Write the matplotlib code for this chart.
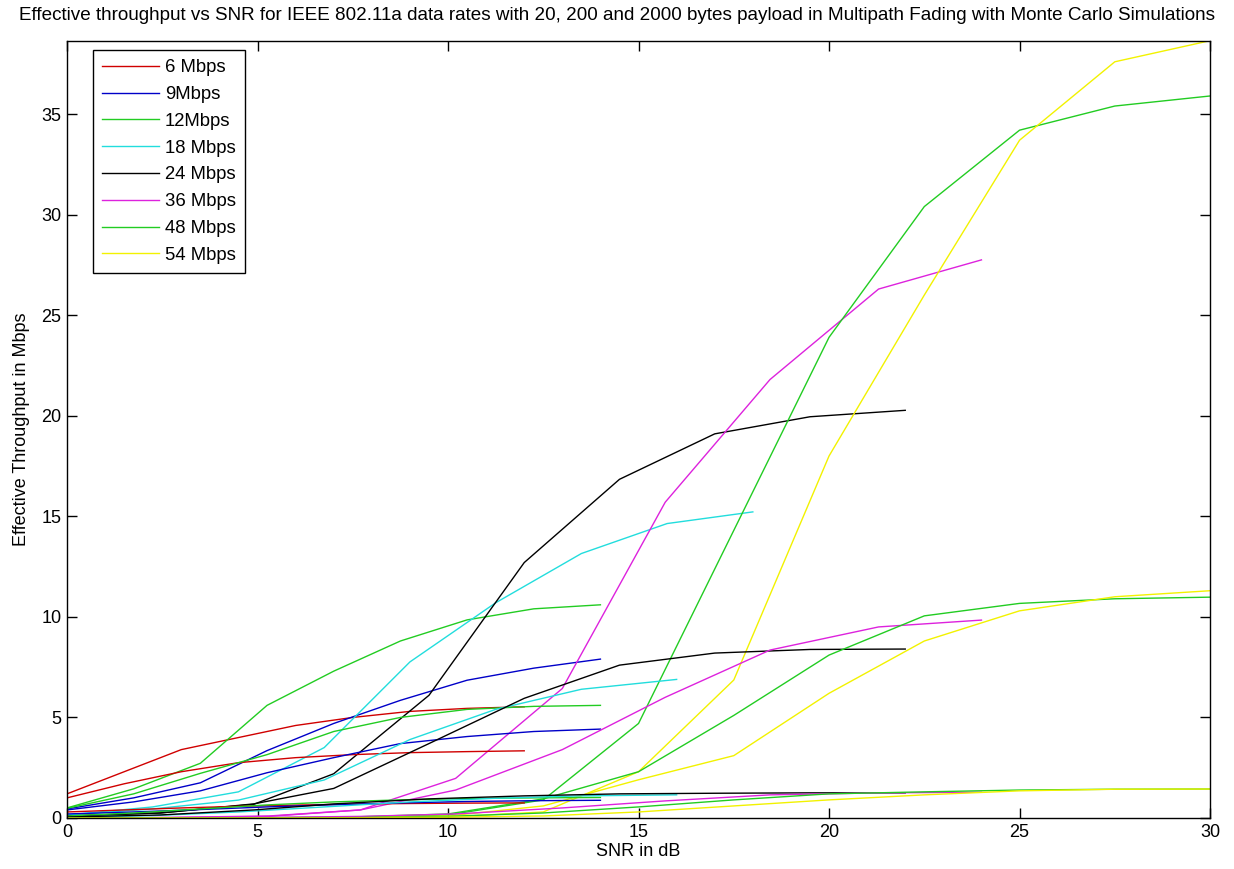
import matplotlib
matplotlib.use("Agg")
import matplotlib.pyplot as plt

# SNR grids (dB) per data rate
snr_6 = [0, 1.5, 3, 4.5, 6, 7.5, 9, 10.5, 12]
snr_9 = [0, 1.75, 3.5, 5.25, 7, 8.75, 10.5, 12.25, 14]
snr_12 = [0, 1.75, 3.5, 5.25, 7, 8.75, 10.5, 12.25, 14]
snr_18 = [0, 2.25, 4.5, 6.75, 9, 11.25, 13.5, 15.75, 18]
snr_18_short = [0, 2.25, 4.5, 6.75, 9, 11.25, 13.5, 16]
snr_24 = [0, 2.45, 4.9, 7, 9.5, 12, 14.5, 17, 19.5, 22]
snr_36 = [0, 2.7, 5.3, 7.7, 10.2, 13, 15.7, 18.45, 21.3, 24]
snr_48 = [0, 2.5, 5, 7.5, 10, 12.5, 15, 17.5, 20, 22.5, 25, 27.5, 30]
snr_54 = [0, 2.5, 5, 7.5, 10, 12.5, 15, 17.5, 20, 22.5, 25, 27.5, 30]

# effective throughput (Mbps), 2000 bytes payload
thr_6_2000 = [1.2, 2.3, 3.4, 4.0, 4.6, 5.0, 5.3, 5.45, 5.53]
thr_9_2000 = [0.45, 1.0, 1.75, 3.35, 4.7, 5.85, 6.85, 7.45, 7.9]
thr_12_2000 = [0.5, 1.45, 2.72, 5.6, 7.3, 8.8, 9.85, 10.4, 10.6]
thr_18_2000 = [0.15, 0.55, 1.3, 3.5, 7.76, 10.7, 13.15, 14.64, 15.22]
thr_24_2000 = [0.1, 0.25, 0.68, 2.2, 6.1, 12.7, 16.84, 19.1, 19.95, 20.27]
thr_36_2000 = [0, 0.02, 0.08, 0.4, 1.97, 6.44, 15.7, 21.8, 26.3, 27.75]
thr_48_2000 = [0, 0, 0.01, 0.03, 0.15, 0.9, 4.7, 14.3, 23.9, 30.4, 34.2, 35.4, 35.9]
thr_54_2000 = [0, 0, 0, 0.01, 0.05, 0.3, 2.3, 6.86, 18.0, 26.0, 33.7, 37.6, 38.65]

# 200 bytes payload
thr_6_200 = [1.0, 1.7, 2.3, 2.75, 3.0, 3.15, 3.25, 3.3, 3.34]
thr_9_200 = [0.4, 0.8, 1.35, 2.25, 3.0, 3.7, 4.05, 4.3, 4.42]
thr_12_200 = [0.48, 1.2, 2.22, 3.15, 4.3, 5.0, 5.4, 5.55, 5.6]
thr_18_200 = [0.15, 0.45, 0.89, 1.89, 3.9, 5.4, 6.4, 6.89]
thr_24_200 = [0.1, 0.25, 0.7, 1.47, 3.7, 5.95, 7.6, 8.2, 8.38, 8.4]
thr_36_200 = [0, 0.03, 0.1, 0.4, 1.39, 3.4, 6.0, 8.35, 9.5, 9.84]
thr_48_200 = [0, 0, 0.01, 0.05, 0.2, 0.95, 2.3, 5.1, 8.1, 10.05, 10.67, 10.9, 10.98]
thr_54_200 = [0, 0, 0, 0.02, 0.1, 0.6, 1.9, 3.1, 6.2, 8.8, 10.3, 11.0, 11.3]

# 20 bytes payload
thr_6_20 = [0.3, 0.4, 0.5, 0.58, 0.64, 0.69, 0.72, 0.74, 0.75]
thr_9_20 = [0.2, 0.3, 0.42, 0.55, 0.66, 0.75, 0.82, 0.86, 0.88]
thr_12_20 = [0.1, 0.25, 0.45, 0.65, 0.8, 0.9, 0.97, 1.0, 1.02]
thr_18_20 = [0.05, 0.12, 0.3, 0.55, 0.8, 0.98, 1.1, 1.15]
thr_24_20 = [0.05, 0.15, 0.4, 0.7, 0.95, 1.1, 1.2, 1.23, 1.25, 1.25]
thr_36_20 = [0, 0.01, 0.03, 0.08, 0.2, 0.5, 0.85, 1.15, 1.25, 1.28]
thr_48_20 = [0, 0, 0, 0.02, 0.08, 0.25, 0.55, 0.9, 1.2, 1.3, 1.39, 1.43, 1.44]
thr_54_20 = [0, 0, 0, 0.01, 0.04, 0.1, 0.3, 0.6, 0.9, 1.15, 1.35, 1.43, 1.44]

rate_labels = ["6 Mbps", "9Mbps", "12Mbps", "18 Mbps", "24 Mbps", "36 Mbps", "48 Mbps", "54 Mbps"]
colors = ["#d00000", "#0000c8", "#22cc22", "#22dddd", "#000000", "#dd22dd", "#22cc22", "#f2f200"]

plt.rcParams['font.family'] = ['Liberation Sans', 'DejaVu Sans']

fig = plt.figure(figsize=(12.34, 8.69), dpi=100)
ax = fig.add_axes([0.0543, 0.0587, 0.9263, 0.8945])

groups = [
	[(snr_6, thr_6_2000), (snr_9, thr_9_2000), (snr_12, thr_12_2000), (snr_18, thr_18_2000),
	 (snr_24, thr_24_2000), (snr_36, thr_36_2000), (snr_48, thr_48_2000), (snr_54, thr_54_2000)],
	[(snr_6, thr_6_200), (snr_9, thr_9_200), (snr_12, thr_12_200), (snr_18_short, thr_18_200),
	 (snr_24, thr_24_200), (snr_36, thr_36_200), (snr_48, thr_48_200), (snr_54, thr_54_200)],
	[(snr_6, thr_6_20), (snr_9, thr_9_20), (snr_12, thr_12_20), (snr_18_short, thr_18_20),
	 (snr_24, thr_24_20), (snr_36, thr_36_20), (snr_48, thr_48_20), (snr_54, thr_54_20)],
]

for g, group in enumerate(groups):
	for i, (x, y) in enumerate(group):
		lbl = rate_labels[i] if g == 0 else None
		ax.plot(x, y, color=colors[i], lw=1.0, label=lbl)

ax.set_xlim(0, 30)
ax.set_ylim(0, 38.65)
ax.set_xticks(range(0, 31, 5))
ax.set_yticks(range(0, 36, 5))
ax.tick_params(direction='in', length=7, width=1, top=True, right=True, labelsize=13, pad=4)
for s in ax.spines.values():
	s.set_linewidth(1)

# title centred on the figure, as in the original
fig.text(0.5, 1 - 16 / 869, 'Effective throughput vs SNR for IEEE 802.11a data rates with 20, 200 and 2000 bytes payload in Multipath Fading with Monte Carlo Simulations',
	fontsize=13.6, ha='center', va='center')
ax.set_xlabel('SNR in dB', fontsize=13, labelpad=2)
ax.set_ylabel('Effective Throughput in Mbps', fontsize=13, labelpad=8)

leg = ax.legend(loc='upper left', bbox_to_anchor=(0.0227, 0.988), borderaxespad=0, fontsize=13.3,
	handlelength=3.1, handletextpad=0.3, labelspacing=0.53, borderpad=0.5, fancybox=False,
	framealpha=1, edgecolor='black')
leg.get_frame().set_linewidth(1)

fig.savefig('out.png', dpi=100)
